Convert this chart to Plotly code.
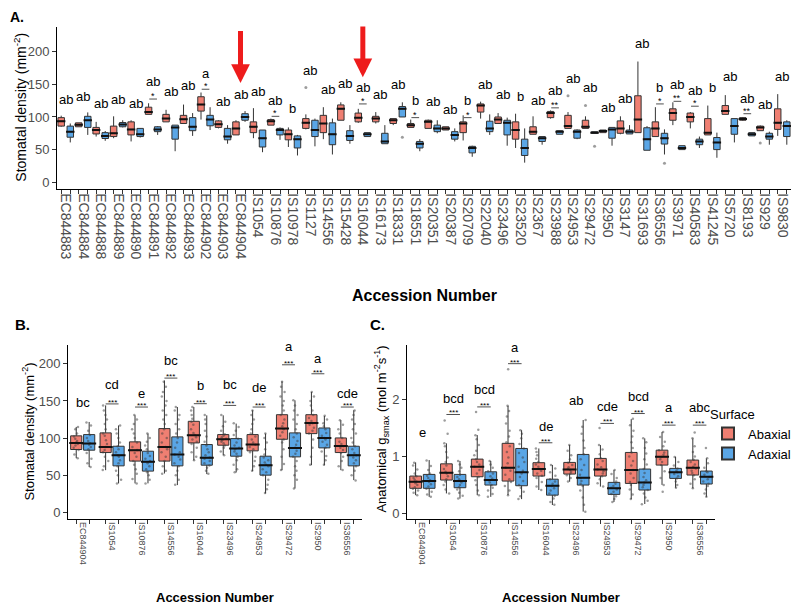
import plotly.graph_objects as go

RED = "#EF7F72"
BLUE = "#5AA6E6"
LINE = "#333333"
TICK = "#4D4D4D"
FONT = "Liberation Sans, Arial, sans-serif"

# ---------------- panel A: all accessions ----------------
a_labels = ["EC844883", "EC844884", "EC844888", "EC844889", "EC844890", "EC844891",
            "EC844892", "EC844893", "EC844902", "EC844903", "EC844904", "IS1054",
            "IS10876", "IS10978", "IS1127", "IS14556", "IS15428", "IS16044", "IS16173",
            "IS18331", "IS18551", "IS20351", "IS20387", "IS20709", "IS22040", "IS23496",
            "IS23520", "IS2367", "IS23988", "IS24953", "IS29472", "IS2950", "IS3147",
            "IS31693", "IS36556", "IS3971", "IS40583", "IS41245", "IS5720", "IS8193",
            "IS929", "IS9830"]

a_ab_q1 = [86, 85, 74, 70, 72.5, 104, 92.5, 90, 109, 84, 72.5, 76, 87.5, 65, 82.5, 76, 95, 92.5,
           92.5, 90, 84, 82.5, 80, 76, 107.5, 90, 66, 73.5, 99, 82.5, 82.5, 76, 75, 76, 70, 95,
           92.5, 72.5, 104, 95, 79, 81]
a_ab_med = [93.5, 88, 80, 75, 81, 107.5, 97.5, 96.5, 119, 89, 82.5, 85, 93.5, 73.5, 91, 90, 112.5,
            99, 97.5, 95, 87.5, 92.5, 82.5, 90, 117.5, 96, 80, 77.5, 106, 86, 85, 78.5, 82.5, 96,
            82.5, 106, 100, 76, 109, 97, 84, 91]
a_ab_q3 = [99, 91, 84, 86, 92.5, 115, 104, 102.5, 131, 94, 92.5, 92.5, 96, 80, 97.5, 102.5, 118.5,
           106, 101, 97.5, 90, 95, 85, 92.5, 120, 100, 92.5, 85, 108.5, 102.5, 95, 80, 94, 132.5,
           92.5, 112.5, 106, 97.5, 117.5, 99, 86, 112.5]
a_ab_lo = [85, 85, 70, 67.5, 62.5, 104, 92.5, 90, 96, 82.5, 72.5, 67.5, 87.5, 54, 81, 66, 95, 91,
           90, 87.5, 84, 82.5, 80, 64, 97.5, 90, 52.5, 73.5, 97.5, 82.5, 82.5, 76, 73.5, 76, 70,
           87.5, 82.5, 72.5, 104, 94, 79, 71]
a_ab_hi = [102, 91, 92.5, 101, 95, 121, 111, 119, 137.5, 95, 95, 113.5, 97.5, 84, 104, 115, 122.5,
           112.5, 107.5, 97.5, 96, 96, 85, 102.5, 123.5, 106, 105, 101, 110, 107.5, 101, 80, 101,
           185, 115, 122.5, 107.5, 117.5, 133.5, 100, 87, 135]

a_ad_q1 = [69, 84, 67, 85, 70, 77.5, 66, 79, 86.5, 65, 95, 54, 72.5, 52.5, 70, 57.5, 64, 70, 59,
           100, 52.5, 77.5, 66, 45, 77.5, 72.5, 41, 62.5, 73.5, 67.5, 75, 67.5, 74, 49, 58.5, 50,
           57.5, 50, 73.5, 71, 66, 70]
a_ad_med = [77.5, 95, 71, 88.5, 73.5, 81, 84, 85, 96, 70, 100, 67.5, 80, 66, 80, 73.5, 71, 73.5,
            62.5, 112.5, 59, 82.5, 72.5, 52.5, 82.5, 91, 52.5, 67.5, 77.5, 77.5, 76, 81, 77.5, 66,
            67.5, 52.5, 62.5, 61, 86, 73.5, 70, 86]
a_ad_q3 = [86, 101, 76, 91.5, 82.5, 85, 87.5, 99, 102.5, 82.5, 105, 80, 82.5, 71, 95, 91, 79, 76,
           75, 116, 62.5, 87.5, 77.5, 55, 93.5, 95, 66, 70, 79, 80, 77.5, 84, 80, 83.5, 75, 56, 66,
           68.5, 97.5, 76, 75, 92.5]
a_ad_lo = [61, 72.5, 63.5, 84, 68.5, 72.5, 47.5, 71, 80, 59, 92.5, 46, 65, 41, 55, 42.5, 59, 70,
           59, 100, 47.5, 75, 62.5, 39, 72.5, 56, 30, 57.5, 73.5, 66, 75, 56, 74, 49, 42.5, 50,
           52.5, 37.5, 61, 71, 57.5, 57.5]
a_ad_hi = [90, 107, 78.5, 95, 83, 86, 87.5, 106, 115, 87.5, 109, 80, 84, 72.5, 97.5, 97.5, 87.5,
           76, 87.5, 122.5, 66, 95, 82.5, 56, 104, 99, 82.5, 70, 79, 81, 77.5, 84, 87.5, 86, 81,
           56, 70, 76, 97.5, 76, 77.5, 95]

a_letters = ["ab", "ab", "ab", "ab", "ab", "ab", "ab", "ab", "a", "ab", "ab", "ab", "ab", "b",
             "ab", "ab", "ab", "ab", "ab", "ab", "b", "ab", "ab", "b", "ab", "ab", "b", "ab",
             "ab", "ab", "ab", "ab", "ab", "ab", "b", "ab", "ab", "b", "ab", "ab", "ab", "ab"]
a_letter_y = [127.5, 131, 121, 127.5, 121, 155, 139, 147.5, 166.5, 123.5, 135, 139, 125, 112.5,
              171.5, 142.5, 151, 145, 135, 150, 125, 123.5, 111, 126, 150, 135, 131.5, 126, 140,
              159, 145, 115, 129, 213, 145, 150, 141, 145, 161.5, 129, 119, 161.5]

a_sig_idx = [5, 8, 12, 17, 20, 23, 28, 34, 35, 36, 39]
a_sig_txt = ["*", "*", "*", "*", "*", "*", "**", "*", "**", "*", "**"]
a_sig_y = [127.5, 142.5, 101, 120, 99, 99, 114, 120, 124, 116.5, 105]

a_out_idx = [14, 19, 29, 30, 30, 34, 40]
a_out_side = ["ab", "ad", "ab", "ab", "ad", "ad", "ab"]
a_out_val = [145, 69, 132.5, 117.5, 55, 29, 60]

a_arrow_idx = [10, 17]
a_arrow_tip = [152, 161]
a_arrow_tail = [234, 241]

# ---------------- panels B and C: selected accessions ----------------
bc_labels = ["EC844904", "IS1054", "IS10876", "IS14556", "IS16044", "IS23496", "IS24953",
             "IS29472", "IS2950", "IS36556"]

b_ab_stats = [  # q1, median, q3, lower, upper
    (84.6, 93.5, 103, 73, 115), (80.5, 88, 107, 56.8, 144), (69, 83.7, 94.9, 39, 130.6),
    (69, 88, 112.8, 52.3, 177.6), (93.5, 103.8, 122.6, 70, 141.8), (90.4, 98.4, 104.7, 77, 130.6),
    (82.8, 91.3, 104.7, 55.5, 137.4), (98.4, 112.8, 131.5, 56.8, 176.3),
    (106, 120.4, 131.5, 63.5, 162), (80.5, 89.5, 100.2, 56.8, 124)]
b_ad_stats = [
    (83.7, 92.6, 104.7, 61, 121.7), (62.6, 77, 89, 39, 117), (55.5, 68, 82.3, 39, 106),
    (62.6, 77.9, 101.6, 36.7, 141.8), (63.5, 73.4, 91.3, 51.5, 130.6), (75.6, 85.9, 99.3, 53.7, 119.5),
    (50.1, 63.5, 75.6, 25.5, 106), (74.7, 86.8, 107, 32.2, 150.8), (86.8, 100.2, 113.6, 63.5, 129.8),
    (62.6, 77, 89, 43.4, 137.4)]
b_letters = ["bc", "cd", "e", "bc", "b", "bc", "de", "a", "a", "cde"]
b_letter_y = [147.7, 171.8, 160.5, 204.5, 171, 171.8, 168.7, 223, 207.6, 160]
b_sig_y = [None, 146, 141.8, 180.8, 146.3, 144, 141.8, 198.7, 186.6, 141.8]

b_ab_pts = [
    [73, 78, 84, 87, 90, 92, 94, 96, 99, 102, 106, 112, 115],
    [57, 62, 69, 75, 81, 84, 88, 92, 97, 103, 106, 112, 119, 125, 131, 137, 144],
    [39, 45, 52, 58, 64, 69, 75, 80, 84, 88, 94, 100, 106, 112, 119, 125, 131],
    [52, 56, 62, 69, 75, 81, 85, 88, 94, 100, 106, 112, 119, 125, 131, 137, 144, 150, 156, 162, 169, 176],
    [70, 75, 81, 87, 92, 95, 98, 101, 104, 107, 112, 118, 122, 126, 131, 137, 142],
    [77, 82, 87, 90, 93, 95, 97, 99, 101, 103, 105, 110, 116, 122, 131],
    [56, 62, 69, 75, 81, 85, 88, 91, 94, 98, 102, 106, 112, 119, 125, 131, 137],
    [57, 65, 75, 85, 94, 98, 103, 108, 112, 116, 120, 125, 131, 137, 144, 150, 156, 162, 169, 176],
    [64, 75, 87, 98, 106, 110, 114, 118, 120, 123, 127, 131, 137, 144, 150, 156, 162],
    [57, 62, 69, 75, 80, 84, 87, 89, 92, 95, 100, 106, 112, 118, 124]]
b_ad_pts = [
    [61, 66, 72, 80, 85, 88, 91, 93, 96, 100, 104, 110, 117, 121],
    [39, 44, 50, 56, 62, 66, 70, 75, 77, 81, 85, 89, 94, 100, 106, 112, 117],
    [39, 44, 50, 54, 58, 62, 66, 69, 72, 76, 80, 85, 90, 95, 100, 106],
    [37, 44, 50, 56, 62, 66, 71, 75, 78, 81, 87, 94, 100, 106, 112, 119, 125, 131, 137, 142],
    [52, 56, 60, 63, 66, 69, 72, 74, 77, 81, 85, 90, 95, 102, 110, 119, 125, 131],
    [54, 58, 64, 70, 75, 79, 82, 85, 87, 90, 94, 99, 104, 110, 115, 120],
    [26, 31, 37, 44, 50, 54, 58, 62, 64, 67, 70, 74, 78, 85, 94, 100, 106],
    [32, 44, 50, 56, 62, 69, 75, 79, 83, 87, 91, 96, 101, 106, 112, 119, 125, 131, 137, 144, 151],
    [64, 70, 76, 82, 87, 91, 95, 98, 100, 103, 107, 112, 116, 120, 125, 130],
    [43, 50, 56, 62, 66, 70, 74, 77, 80, 85, 89, 94, 100, 106, 112, 119, 125, 131, 137]]

c_ab_stats = [
    (0.44, 0.555, 0.655, 0.32, 0.895), (0.585, 0.713, 0.87, 0.35, 1.23), (0.643, 0.82, 0.953, 0.32, 1.375),
    (0.567, 0.80, 1.23, 0.32, 1.89), (0.655, 0.778, 0.89, 0.41, 1.14), (0.69, 0.772, 0.895, 0.556, 1.2),
    (0.655, 0.772, 0.965, 0.47, 1.2), (0.526, 0.76, 1.07, 0.25, 1.655), (0.848, 0.994, 1.11, 0.5, 1.43),
    (0.673, 0.80, 0.936, 0.44, 1.316)]
c_ad_stats = [
    (0.44, 0.567, 0.684, 0.29, 0.936), (0.45, 0.567, 0.684, 0.26, 0.92), (0.497, 0.585, 0.73, 0.29, 0.92),
    (0.485, 0.72, 1.14, 0.25, 1.46), (0.32, 0.485, 0.60, 0.146, 0.85), (0.497, 0.626, 1.035, 0.03, 1.64),
    (0.333, 0.44, 0.544, 0.2, 0.76), (0.41, 0.544, 0.778, 0.164, 1.316), (0.614, 0.72, 0.79, 0.45, 0.994),
    (0.515, 0.643, 0.743, 0.29, 0.965)]
c_letters = ["e", "bcd", "bcd", "a", "de", "ab", "cde", "bcd", "a", "abc"]
c_letter_y = [1.42, 2.02, 2.18, 2.92, 1.52, 1.99, 1.87, 2.06, 1.86, 1.86]
c_sig_y = [None, 1.737, 1.87, 2.63, 1.24, None, 1.58, 1.754, 1.55, 1.55]

c_ab_pts = [
    [0.32, 0.36, 0.40, 0.43, 0.46, 0.50, 0.53, 0.56, 0.59, 0.62, 0.65, 0.70, 0.77, 0.84, 0.89],
    [0.35, 0.42, 0.50, 0.56, 0.60, 0.65, 0.70, 0.73, 0.78, 0.84, 0.90, 0.98, 1.08, 1.18, 1.23, 1.40, 1.63],
    [0.32, 0.40, 0.50, 0.58, 0.64, 0.70, 0.76, 0.82, 0.86, 0.90, 0.95, 1.02, 1.10, 1.20, 1.30, 1.37, 1.47, 1.78],
    [0.32, 0.40, 0.48, 0.55, 0.60, 0.68, 0.75, 0.80, 0.88, 0.98, 1.08, 1.18, 1.25, 1.35, 1.45, 1.58, 1.70, 1.80, 1.89, 2.53],
    [0.41, 0.47, 0.55, 0.62, 0.66, 0.70, 0.75, 0.78, 0.82, 0.86, 0.90, 0.96, 1.02, 1.08, 1.14],
    [0.56, 0.62, 0.67, 0.70, 0.73, 0.76, 0.78, 0.81, 0.85, 0.89, 0.95, 1.02, 1.10, 1.20],
    [0.47, 0.53, 0.60, 0.65, 0.70, 0.74, 0.77, 0.81, 0.86, 0.92, 0.97, 1.04, 1.12, 1.20, 1.50],
    [0.25, 0.33, 0.42, 0.50, 0.55, 0.62, 0.70, 0.76, 0.84, 0.92, 1.00, 1.07, 1.15, 1.25, 1.35, 1.45, 1.55, 1.66],
    [0.38, 0.50, 0.62, 0.74, 0.85, 0.90, 0.95, 0.99, 1.03, 1.07, 1.11, 1.18, 1.26, 1.34, 1.43],
    [0.44, 0.52, 0.60, 0.67, 0.71, 0.75, 0.79, 0.82, 0.86, 0.90, 0.94, 1.00, 1.08, 1.18, 1.32, 1.42]]
c_ad_pts = [
    [0.29, 0.33, 0.38, 0.43, 0.47, 0.51, 0.55, 0.58, 0.62, 0.66, 0.70, 0.76, 0.83, 0.93],
    [0.26, 0.31, 0.36, 0.42, 0.46, 0.50, 0.54, 0.57, 0.60, 0.64, 0.68, 0.74, 0.80, 0.86, 0.92],
    [0.29, 0.34, 0.40, 0.45, 0.50, 0.54, 0.58, 0.61, 0.65, 0.70, 0.74, 0.80, 0.86, 0.92],
    [0.25, 0.30, 0.38, 0.45, 0.50, 0.57, 0.64, 0.70, 0.75, 0.82, 0.90, 0.98, 1.06, 1.14, 1.22, 1.32, 1.40, 1.46],
    [0.15, 0.20, 0.26, 0.31, 0.35, 0.40, 0.44, 0.48, 0.52, 0.56, 0.60, 0.66, 0.72, 0.79, 0.85],
    [0.03, 0.15, 0.28, 0.40, 0.48, 0.52, 0.57, 0.62, 0.68, 0.76, 0.85, 0.95, 1.04, 1.15, 1.28, 1.40, 1.52, 1.64],
    [0.20, 0.25, 0.30, 0.34, 0.38, 0.42, 0.45, 0.48, 0.52, 0.56, 0.62, 0.69, 0.76],
    [0.16, 0.22, 0.28, 0.35, 0.41, 0.46, 0.50, 0.54, 0.58, 0.64, 0.71, 0.78, 0.86, 0.95, 1.05, 1.15, 1.25, 1.32],
    [0.45, 0.50, 0.56, 0.61, 0.65, 0.69, 0.72, 0.75, 0.79, 0.84, 0.90, 0.99],
    [0.29, 0.35, 0.42, 0.48, 0.52, 0.56, 0.60, 0.64, 0.68, 0.72, 0.74, 0.80, 0.88, 0.97, 1.15]]


def col(stats, k):
    return [s[k] for s in stats]


def add_boxes(fig, pos, q1, med, q3, lo, hi, color, name, xa, xa_tick, ya, width, med_px, legend):
    fig.add_trace(go.Box(
        x=pos, q1=q1, median=med, q3=q3, lowerfence=lo, upperfence=hi,
        fillcolor=color, line=dict(color=LINE, width=1), width=width, whiskerwidth=0,
        boxpoints=False, name=name, legendgroup=name, showlegend=legend,
        xaxis=xa, yaxis=ya, hoverinfo="skip"))
    # thicker median bar like ggplot
    fig.add_trace(go.Scatter(
        x=pos, y=med, mode="markers", showlegend=False, hoverinfo="skip",
        marker=dict(symbol="line-ew", size=med_px, line=dict(color="#111111", width=2)),
        xaxis=xa_tick, yaxis=ya))


def add_points(fig, pos, pts, xa, ya, width):
    xs, ys = [], []
    for p, vals in zip(pos, pts):
        xs += [p] * len(vals)
        ys += vals
    fig.add_trace(go.Box(
        x=xs, y=ys, boxpoints="all", jitter=0.7, pointpos=0, width=width,
        fillcolor="rgba(0,0,0,0)", line=dict(width=0, color="rgba(0,0,0,0)"),
        marker=dict(size=2.5, color="rgba(60,60,60,0.5)"),
        showlegend=False, hoverinfo="skip", xaxis=xa, yaxis=ya))


fig = go.Figure()

# panel A
a_pos = list(range(len(a_labels)))
a_off = 0.26
a_red = [p - a_off for p in a_pos]
a_blue = [p + a_off for p in a_pos]
add_boxes(fig, a_red, a_ab_q1, a_ab_med, a_ab_q3, a_ab_lo, a_ab_hi, RED, "Abaxial", "x", "x2", "y", 0.37, 6, False)
add_boxes(fig, a_blue, a_ad_q1, a_ad_med, a_ad_q3, a_ad_lo, a_ad_hi, BLUE, "Adaxial", "x", "x2", "y", 0.37, 6, False)
fig.add_trace(go.Scatter(
    x=[i - a_off if s == "ab" else i + a_off for i, s in zip(a_out_idx, a_out_side)],
    y=a_out_val, mode="markers", showlegend=False, hoverinfo="skip",
    marker=dict(size=3, color="rgba(60,60,60,0.5)"), xaxis="x", yaxis="y"))

# panels B and C
bc_pos = list(range(len(bc_labels)))
bc_off = 0.22
bc_red = [p - bc_off for p in bc_pos]
bc_blue = [p + bc_off for p in bc_pos]
for stats_ab, stats_ad, pts_ab, pts_ad, xa, xt, ya, legend in [
        (b_ab_stats, b_ad_stats, b_ab_pts, b_ad_pts, "x3", "x4", "y2", False),
        (c_ab_stats, c_ad_stats, c_ab_pts, c_ad_pts, "x5", "x6", "y3", True)]:
    add_boxes(fig, bc_red, col(stats_ab, 0), col(stats_ab, 1), col(stats_ab, 2), col(stats_ab, 3),
              col(stats_ab, 4), RED, "Abaxial", xa, xt, ya, 0.38, 10, legend)
    add_boxes(fig, bc_blue, col(stats_ad, 0), col(stats_ad, 1), col(stats_ad, 2), col(stats_ad, 3),
              col(stats_ad, 4), BLUE, "Adaxial", xa, xt, ya, 0.38, 10, legend)
    add_points(fig, bc_red, pts_ab, xa, ya, 0.3)
    add_points(fig, bc_blue, pts_ad, xa, ya, 0.3)

# annotations
ann = []
shapes = []
for i, (t, y) in enumerate(zip(a_letters, a_letter_y)):
    ann.append(dict(x=i, y=y, xref="x", yref="y", text=t, showarrow=False, font=dict(size=13)))
for i, t, y in zip(a_sig_idx, a_sig_txt, a_sig_y):
    ann.append(dict(x=i, y=y, xref="x", yref="y", text=t, showarrow=False, yanchor="bottom",
                    yshift=-4, font=dict(size=9)))
    shapes.append(dict(type="line", xref="x", yref="y", x0=i - 0.22, x1=i + 0.22, y0=y, y1=y,
                       line=dict(color="#222222", width=0.8)))
for i, tip, tail in zip(a_arrow_idx, a_arrow_tip, a_arrow_tail):
    ann.append(dict(x=i, y=tip, ax=i, ay=tail, xref="x", yref="y", axref="x", ayref="y", text="",
                    showarrow=True, arrowhead=2, arrowsize=0.75, arrowwidth=5, arrowcolor="#EE1C1C"))

for letters, ly, sy, xr, yr in [(b_letters, b_letter_y, b_sig_y, "x3", "y2"),
                                (c_letters, c_letter_y, c_sig_y, "x5", "y3")]:
    for i, (t, y, s) in enumerate(zip(letters, ly, sy)):
        ann.append(dict(x=i, y=y, xref=xr, yref=yr, text=t, showarrow=False, font=dict(size=13)))
        if s is not None:
            ann.append(dict(x=i, y=s, xref=xr, yref=yr, text="***", showarrow=False, yanchor="bottom",
                            yshift=-5, font=dict(size=8)))
            shapes.append(dict(type="line", xref=xr, yref=yr, x0=i - 0.22, x1=i + 0.22, y0=s, y1=s,
                               line=dict(color="#222222", width=0.8)))

# the page body adds an 8px margin, so layout positions are given in window pixels minus that
W, H, PAD = 800.0, 608.0, 8.0


def px(x):
    return (x - PAD) / W


def py(y):
    return 1 - (y - PAD) / H


def label(x, y, text, size, angle=0):
    return dict(x=px(x), y=py(y), xref="paper", yref="paper", text=text, showarrow=False,
                xanchor="center", yanchor="middle", textangle=angle, font=dict(size=size))


ann += [
    label(17, 17, "<b>A.</b>", 14),
    label(22, 326, "<b>B.</b>", 15),
    label(377, 326, "<b>C.</b>", 15),
    label(20, 108, "Stomatal density (mm<sup>-2</sup>)", 14, -90),
    label(28, 433, "Stomatal density (mm<sup>-2</sup>)", 13, -90),
    label(381, 431, "Anatomical g<sub>smax</sub> (mol m<sup>-2</sup>s<sup>-1</sup>)", 13, -90),
    label(424, 296, "<b>Accession Number</b>", 16),
    label(215, 599, "<b>Accession Number</b>", 13),
    label(561, 599, "<b>Accession Number</b>", 13),
]

base_x = dict(type="linear", showgrid=False, zeroline=False, showline=True, linecolor="#000000",
              linewidth=1, ticks="", tickangle=90, tickfont=dict(color=TICK))
tick_x = dict(type="linear", showgrid=False, zeroline=False, showline=False, showticklabels=False,
              ticks="outside", ticklen=4, tickcolor=LINE)
base_y = dict(showgrid=False, zeroline=False, showline=True, linecolor="#000000", linewidth=1,
              ticks="outside", ticklen=4, tickcolor=LINE, tickfont=dict(color=TICK, size=13))

a_dom = [px(57), px(791)]
b_dom = [px(68), px(362)]
c_dom = [px(407), px(715)]
a_rng = [-0.5, 41.5]
bc_rng = [-0.5, 9.5]

fig.update_layout(
    width=W, height=H, margin=dict(l=0, r=0, t=0, b=0),
    plot_bgcolor="white", paper_bgcolor="white", boxmode="overlay",
    font=dict(family=FONT, color="#000000"),
    xaxis=dict(base_x, domain=a_dom, range=a_rng, anchor="y", tickvals=a_pos, ticktext=a_labels,
               tickfont=dict(color=TICK, size=14)),
    xaxis2=dict(tick_x, overlaying="x", anchor="y", range=a_rng, tickvals=a_red + a_blue),
    yaxis=dict(base_y, domain=[py(190), py(27)], range=[-11, 238], anchor="x",
               tickvals=[0, 50, 100, 150, 200]),
    xaxis3=dict(base_x, domain=b_dom, range=bc_rng, anchor="y2", tickvals=bc_pos, ticktext=bc_labels,
                tickfont=dict(color=TICK, size=9)),
    xaxis4=dict(tick_x, overlaying="x3", anchor="y2", range=bc_rng, tickvals=bc_red + bc_blue),
    yaxis2=dict(base_y, domain=[py(521), py(346)], range=[-9.4, 225.5], anchor="x3",
                tickvals=[0, 50, 100, 150, 200]),
    xaxis5=dict(base_x, domain=c_dom, range=bc_rng, anchor="y3", tickvals=bc_pos, ticktext=bc_labels,
                tickfont=dict(color=TICK, size=9)),
    xaxis6=dict(tick_x, overlaying="x5", anchor="y3", range=bc_rng, tickvals=bc_red + bc_blue),
    yaxis3=dict(base_y, domain=[py(521), py(346)], range=[-0.105, 2.96], anchor="x5",
                tickvals=[0, 1, 2]),
    legend=dict(x=px(796), y=py(403), xanchor="right", yanchor="top", bgcolor="rgba(0,0,0,0)",
                title=dict(text="Surface", font=dict(size=13)), font=dict(size=13),
                tracegroupgap=0, itemsizing="constant", itemwidth=30),
    annotations=ann,
    shapes=shapes,
)

fig.write_html("out.html")
